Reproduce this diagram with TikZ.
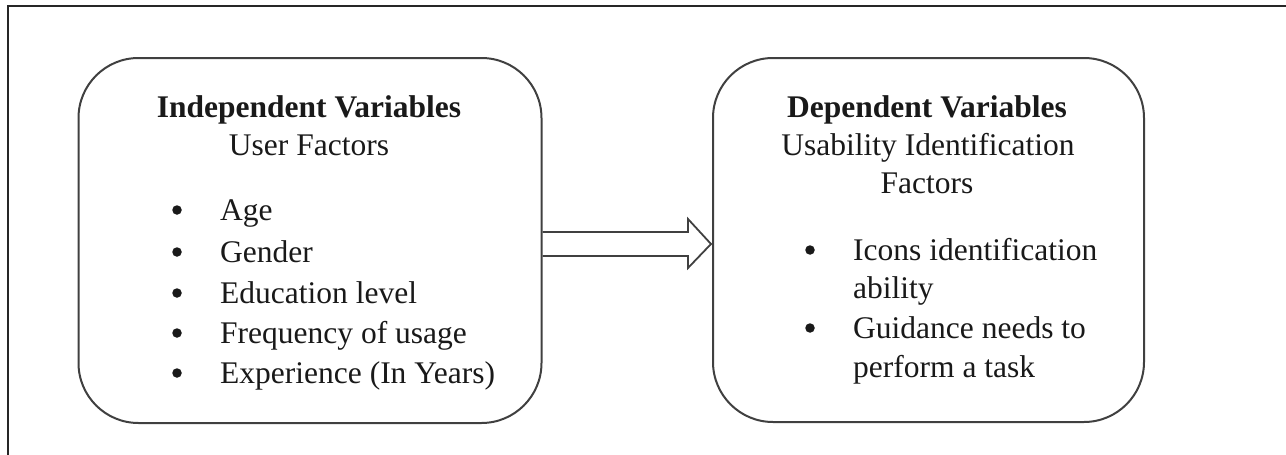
\documentclass[tikz,border=0pt]{standalone}
\usepackage{fontspec}
\setmainfont{Liberation Serif}
\begin{document}
\begin{tikzpicture}[x=1pt,y=-1pt,
  frameline/.style={draw=black!85, line width=2pt},
  box/.style={draw=black!75, line width=2pt, rounded corners=60pt, rectangle, anchor=north west, inner sep=0pt},
  arrowline/.style={draw=black!75, line width=1.8pt, line join=miter},
  txt/.style={anchor=base, font=\fontsize{31.5}{36}\selectfont, text=black!90, inner sep=0pt},
  item/.style={txt, anchor=base west},
  bul/.style={circle, fill=black!90, inner sep=0pt, minimum size=9.5pt}]
\useasboundingbox (0,0) rectangle (1286,455);
\draw[frameline] (8,455) -- (8,6) -- (1286,6);
% boxes
\node[box, minimum width=463pt, minimum height=365pt] (indep) at (77.5,57) {};
\node[box, minimum width=431pt, minimum height=364pt] (dep) at (712,57) {};
% arrow
\coordinate (s1) at (600,232);
\coordinate (s2) at (600,256);
\coordinate (h1) at (688,232);
\coordinate (h2) at (688,219);
\coordinate (h3) at (688,268);
\coordinate (h4) at (688,256);
\coordinate (tip) at (711,244);
\draw[arrowline] (indep.east |- s1) -- (h1) -- (h2) -- (tip) -- (h3) -- (h4) -- (indep.east |- s2);
% left texts
\node[txt] (lt1) at (309,117) {\bfseries Independent Variables};
\node[txt] (lt2) at (309,155) {User Factors};
\node[bul] (lb1) at (177,210) {};
\node[bul] (lb2) at (177,252) {};
\node[bul] (lb3) at (177,293) {};
\node[bul] (lb4) at (177,333) {};
\node[bul] (lb5) at (177,373) {};
\node[item] (li1) at (220,220) {Age};
\node[item] (li2) at (220,262) {Gender};
\node[item] (li3) at (220,303) {Education level};
\node[item] (li4) at (220,343) {Frequency of usage};
\node[item] (li5) at (220,383) {Experience (In Years)};
% right texts
\node[txt] (rt1) at (927,117) {\bfseries Dependent Variables};
\node[txt] (rt2) at (928,155) {Usability Identification};
\node[txt] (rt3) at (927,193) {Factors};
\node[bul] (rb1) at (810,250) {};
\node[bul] (rb2) at (810,328) {};
\node[item] (ri1) at (853,260) {Icons identification};
\node[item] (ri2) at (853,298) {ability};
\node[item] (ri3) at (853,338) {Guidance needs to};
\node[item] (ri4) at (853,377) {perform a task};
\end{tikzpicture}
\end{document}
